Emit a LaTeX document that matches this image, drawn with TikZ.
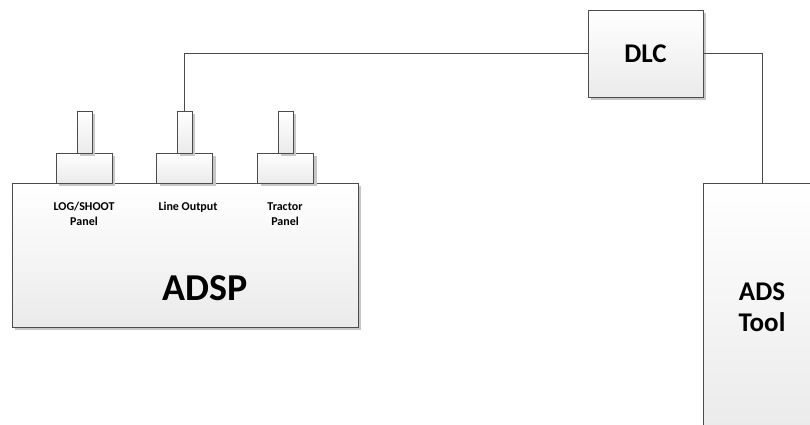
\documentclass[tikz,border=0pt]{standalone}
\usepackage{fontspec}
\setmainfont{Carlito}
\usetikzlibrary{shadows}
\tikzset{
	unitbox/.style = {rectangle, draw=black!70, line width=0.9pt, inner sep=0pt,
		top color=white, bottom color=black!8, align=center,
		drop shadow={shadow xshift=3pt, shadow yshift=-3pt, fill=black!22, opacity=1}},% boite generale
	big_box/.style = {unitbox},% ADSP
	mid_box/.style = {unitbox, font=\fontsize{27}{31}\selectfont\bfseries},% DLC, ADS Tool
	port_base/.style = {unitbox, minimum width=56pt, minimum height=30pt},% socle du connecteur
	port_stem/.style = {unitbox, minimum width=15pt, minimum height=42pt},% tige du connecteur
	port_lbl/.style = {align=center, inner sep=0pt, font=\fontsize{12}{15}\selectfont\bfseries},% etiquette
	wire/.style = {draw=black!70, line width=0.9pt}
}
\begin{document}
\begin{tikzpicture}[x=1pt, y=-1pt]
	\useasboundingbox (0,0) rectangle (810,425);
	\clip (0,0) rectangle (810,425);
	\node [big_box, minimum width=346pt, minimum height=144pt] (adsp) at (185,255) {};
	\node (adsp_txt) at (205,288) [font=\fontsize{38}{42}\selectfont\bfseries] {ADSP};
	\node [port_base] (b1) at (84,168) {};
	\node [port_base] (b2) at (184.5,168) {};
	\node [port_base] (b3) at (285.5,168) {};
	\node [port_stem] (s1) at (84.5,132) {};
	\node [port_stem] (s2) at (184.5,132) {};
	\node [port_stem] (s3) at (285.5,132) {};
	\node [port_lbl] (l1) at (84,214) {LOG/SHOOT\\Panel};
	\node [port_lbl] (l2) at (188,207) {Line Output};
	\node [port_lbl] (l3) at (285,214) {Tractor\\Panel};
	\node [mid_box, minimum width=115pt, minimum height=87pt] (dlc) at (645.5,53.5) {DLC};
	\node [mid_box, minimum width=118pt, minimum height=248pt] (tool) at (762,307) {ADS\\Tool};
	\draw [wire] (s2.north) |- (dlc.west);
	\draw [wire] (dlc.east) -| (tool.north);
\end{tikzpicture}
\end{document}
